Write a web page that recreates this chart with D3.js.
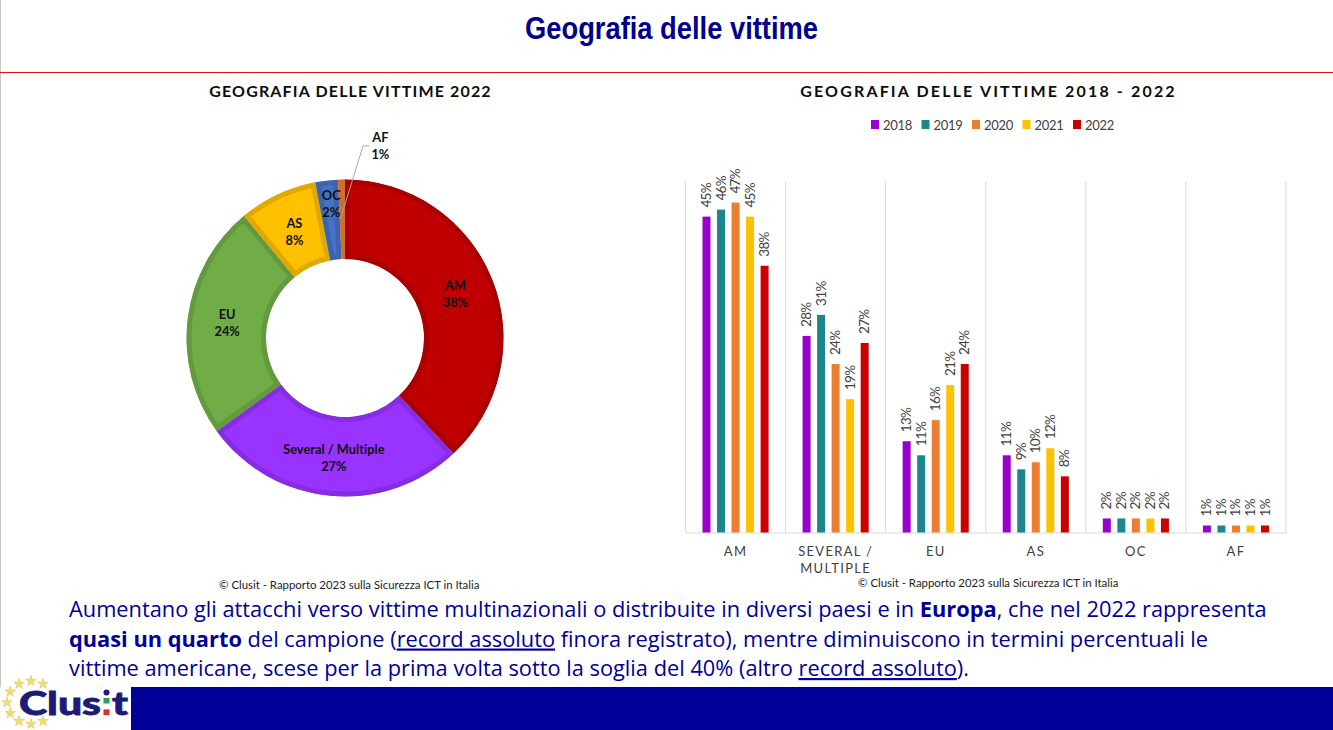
<!DOCTYPE html>
<html>
<head>
<meta charset="utf-8">
<script src="https://cdn.jsdelivr.net/npm/d3@7"></script>
<style>
    html, body { margin: 0; background: #fff; overflow: hidden; }
    svg { display: block; }
    text { font-family: Lato, "Open Sans", sans-serif; font-variant-ligatures: none; }
</style>
</head>
<body>
<div id="chart-wrap"></div>
<script>
'use strict';

const regions2022 = ['AM', 'Several / Multiple', 'EU', 'AS', 'OC', 'AF']
const share2022 = [38, 27, 24, 8, 2.3, 0.7]
const sliceFill = ['#C00000', '#9933FF', '#70AD47', '#FFC000', '#4472C4', '#ED7D31']

const regions = ['AM', 'SEVERAL / MULTIPLE', 'EU', 'AS', 'OC', 'AF']
const years = ['2018', '2019', '2020', '2021', '2022']
const yearColor = ['#9900CC', '#1D868C', '#ED7D31', '#FFC000', '#CC0000']
const values2018 = [45, 28, 13, 11, 2, 1]
const values2019 = [46, 31, 11, 9, 2, 1]
const values2020 = [47, 24, 16, 10, 2, 1]
const values2021 = [45, 19, 21, 12, 2, 1]
const values2022 = [38, 27, 24, 8, 2, 1]

const sourceText = '© Clusit - Rapporto 2023 sulla Sicurezza ICT in Italia'
const bodyLines = [
    [['Aumentano gli attacchi verso vittime multinazionali o distribuite in diversi paesi e in '], ['Europa', 'b'], [', che nel 2022 rappresenta']],
    [['quasi un quarto', 'b'], [' del campione ('], ['record assoluto', 'u'], [' finora registrato), mentre diminuiscono in termini percentuali le']],
    [['vittime americane, scese per la prima volta sotto la soglia del 40% (altro '], ['record assoluto', 'u'], [').']]
]

const navy = '#000099'

const svg = d3.select('#chart-wrap').append('svg')
    .attr('width', 1333)
    .attr('height', 730)

// page frame
svg.append('line').attr('x1', 0.5).attr('x2', 0.5).attr('y1', 0).attr('y2', 687).attr('stroke', '#c8c8c8')
svg.append('line').attr('x1', 0).attr('x2', 1333).attr('y1', 72.5).attr('y2', 72.5).attr('stroke', '#DD1111')
svg.append('rect').attr('x', 131).attr('y', 687).attr('width', 1202).attr('height', 43).attr('fill', navy)

svg.append('text')
    .attr('x', 525).attr('y', 38.5)
    .attr('textLength', 293).attr('lengthAdjust', 'spacingAndGlyphs')
    .style('font-family', '"Liberation Sans", sans-serif')
    .attr('font-size', 32).attr('font-weight', 700)
    .attr('fill', '#00008B')
    .text('Geografia delle vittime')

// donut
const drawDonut = () => {
    const g = svg.append('g').attr('transform', 'translate(345, 338)')
    const outer = 158.5, inner = 79

    g.append('text').attr('x', 5.5).attr('y', -241.5)
        .attr('text-anchor', 'middle')
        .attr('font-size', 16).attr('font-weight', 700)
        .style('letter-spacing', '1.15px').attr('fill', '#0d0d0d')
        .text('GEOGRAFIA DELLE VITTIME 2022')

    const pie = d3.pie().sort(null).value(d => d.value)
    const arc = d3.arc().innerRadius(inner).outerRadius(outer)
    const slices = pie(regions2022.map((name, i) => ({ name, value: share2022[i], fill: sliceFill[i] })))

    const defs = svg.append('defs')
    slices.forEach((d, i) => {
        defs.append('clipPath').attr('id', `slice-${i}`).append('path').attr('d', arc(d))
    })

    g.selectAll('path.slice')
        .data(slices)
        .join('path')
        .attr('class', 'slice')
        .attr('d', arc)
        .attr('clip-path', (d, i) => `url(#slice-${i})`)
        .attr('fill', d => d.data.fill)
        .attr('stroke', d => d3.color(d.data.fill).darker(0.35))
        .attr('stroke-width', 10)

    // OC and AF labels were moved by hand in the original
    const shift = { 'Several / Multiple': [0, 1.5], AS: [0, 1], OC: [0, -16], AF: [38, -73] }
    const pct = d3.format('.0f')

    const leader = arc.centroid(slices[5])
    g.append('polyline')
        .attr('points', [[leader[0] - 2, leader[1]], [18, -192], [24, -192]].join(' '))
        .attr('fill', 'none').attr('stroke', '#a6a6a6').attr('stroke-width', 1)

    const labels = g.selectAll('text.slice-label')
        .data(slices)
        .join('text')
        .attr('class', 'slice-label')
        .attr('transform', d => {
            const [x, y] = arc.centroid(d)
            const s = shift[d.data.name] || [0, 0]
            return `translate(${x + s[0]}, ${y + s[1]})`
        })
        .attr('text-anchor', 'middle')
        .attr('font-size', 12.8).attr('font-weight', 700)
        .attr('fill', '#111')
    labels.append('tspan').attr('x', 0).attr('dy', -4).text(d => d.data.name)
    labels.append('tspan').attr('x', 0).attr('dy', 17).text(d => pct(d.data.value) + '%')
}

// grouped bars
const drawBars = () => {
    const series = [values2018, values2019, values2020, values2021, values2022]
    const margin = { left: 685.5, right: 47, top: 181.5, bottom: 197.5 }
    const width = 1333 - margin.left - margin.right
    const height = 730 - margin.top - margin.bottom

    const g = svg.append('g').attr('transform', `translate(${margin.left}, ${margin.top})`)

    svg.append('text').attr('x', 988.5).attr('y', 97)
        .attr('text-anchor', 'middle')
        .attr('font-size', 16).attr('font-weight', 700)
        .style('letter-spacing', '2.15px').attr('fill', '#0d0d0d')
        .text('GEOGRAFIA DELLE VITTIME 2018 - 2022')

    const x0 = d3.scaleBand().domain(regions).range([0, width])
    const x1 = d3.scaleBand().domain(years).range([0, x0.bandwidth()]).paddingInner(0.45).paddingOuter(1.17)
    const y = d3.scaleLinear().domain([0, 50]).range([height, 0])

    // vertical separators between the categories
    g.selectAll('line.sep')
        .data(d3.range(regions.length + 1))
        .join('line')
        .attr('class', 'sep')
        .attr('x1', i => i * x0.step()).attr('x2', i => i * x0.step())
        .attr('y1', 0).attr('y2', height)
        .attr('stroke', '#d9d9d9')

    const xAxis = g.append('g')
        .attr('transform', `translate(0, ${height})`)
        .call(d3.axisBottom(x0).tickSize(0).tickPadding(0))
    xAxis.select('.domain').attr('stroke', '#d9d9d9')
    xAxis.selectAll('.tick text').each(function (d) {
        const t = d3.select(this).text('').attr('y', 0).attr('dy', 0)
            .attr('font-size', 13).attr('fill', '#404040')
            .style('font-family', 'Lato, sans-serif').style('letter-spacing', '1.3px')
        const parts = d.includes('/') ? ['SEVERAL /', 'MULTIPLE'] : [d]
        parts.forEach((p, i) => {
            t.append('tspan').attr('x', 0).attr('y', 23.5 + i * 17).text(p)
        })
    })

    const groups = g.selectAll('g.year')
        .data(years)
        .join('g')
        .attr('class', 'year')

    groups.selectAll('rect')
        .data((yr, i) => regions.map((r, j) => ({ r, yr, v: series[i][j], c: yearColor[i] })))
        .join('rect')
        .attr('x', d => x0(d.r) + x1(d.yr))
        .attr('width', x1.bandwidth())
        .attr('y', d => y(d.v))
        .attr('height', d => height - y(d.v))
        .attr('fill', d => d.c)

    groups.selectAll('text')
        .data((yr, i) => regions.map((r, j) => ({ r, yr, v: series[i][j] })))
        .join('text')
        .attr('transform', d => `translate(${x0(d.r) + x1(d.yr) + x1.bandwidth() / 2 + 4.5}, ${y(d.v) - 9}) rotate(-90)`)
        .attr('font-size', 13.5)
        .style('letter-spacing', '-0.7px')
        .attr('fill', '#404040')
        .text(d => d.v + '%')

    // legend
    const legendX = d3.scalePoint().domain(years).range([871, 1073])
    const legend = svg.append('g').selectAll('g').data(years).join('g')
        .attr('transform', d => `translate(${legendX(d)}, 120)`)
    legend.append('rect').attr('width', 8).attr('height', 9)
        .attr('fill', (d, i) => yearColor[i])
    legend.append('text').attr('x', 12).attr('y', 9.5)
        .attr('font-size', 13).style('letter-spacing', '-0.3px').attr('fill', '#404040')
        .text(d => d)
}

// sources and comment
const drawText = () => {
    svg.selectAll('text.source')
        .data([[219, 589], [858, 587]])
        .join('text')
        .attr('class', 'source')
        .attr('x', d => d[0]).attr('y', d => d[1])
        .attr('font-size', 11.4).attr('fill', '#222')
        .text(sourceText)

    const lines = svg.selectAll('text.body')
        .data(bodyLines)
        .join('text')
        .attr('class', 'body')
        .attr('x', 69)
        .attr('y', (d, i) => 617 + i * 29.5)
        .attr('font-size', 21.8)
        .attr('fill', navy)
        .style('font-family', '"Open Sans", sans-serif')
    lines.selectAll('tspan')
        .data(d => d)
        .join('tspan')
        .attr('font-weight', d => d[1] === 'b' ? 700 : 400)
        .attr('text-decoration', d => d[1] === 'u' ? 'underline' : null)
        .text(d => d[0])
}

// logo: ring of stars and wordmark
const drawLogo = () => {
    const g = svg.append('g').attr('transform', 'translate(31, 702.5)')
    const star = d3.symbol().type(d3.symbolStar).size(36)
    g.selectAll('path')
        .data([0, 30, -30, -60, -90, -120, -150, 180, 150])
        .join('path')
        .attr('d', star)
        .attr('transform', d => `translate(${24 * Math.sin(d * Math.PI / 180)}, ${-21.5 * Math.cos(d * Math.PI / 180)})`)
        .attr('fill', '#F2DC6B').attr('stroke', '#d8c050').attr('stroke-width', 0.5)

    const mark = '#1E1A75'
    const logoText = (s, x, len) => svg.append('text').attr('x', x).attr('y', 715)
        .attr('font-size', 33).attr('font-weight', 900).attr('fill', mark)
        .attr('textLength', len).attr('lengthAdjust', 'spacingAndGlyphs')
        .attr('stroke', mark).attr('stroke-width', 0.8)
        .style('font-family', 'Lato, sans-serif').text(s)
    logoText('Clus', 19, 82)
    logoText('t', 112, 16)
    svg.append('circle').attr('cx', 106.5).attr('cy', 692.5).attr('r', 3).attr('fill', mark)
    const flag = ['#2E9E4F', '#fff', '#D8302F']
    svg.selectAll('rect.flag').data(flag).join('rect')
        .attr('class', 'flag')
        .attr('x', 103.5).attr('width', 6)
        .attr('y', (d, i) => 698 + i * 5.7).attr('height', 5.7)
        .attr('fill', d => d)
}

drawDonut()
drawBars()
drawText()
drawLogo()
</script>
</body>
</html>
